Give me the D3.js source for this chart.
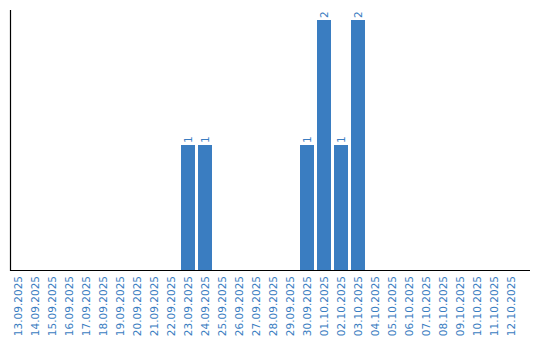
<!DOCTYPE html>
<html><head><meta charset="utf-8">
<script src="https://cdn.jsdelivr.net/npm/d3@7"></script>
<style>body{margin:0;background:#fff}svg{display:block}</style>
</head><body>
<svg id="c" width="540" height="340"></svg>
<script>
const categories = ["13.09.2025","14.09.2025","15.09.2025","16.09.2025","17.09.2025","18.09.2025","19.09.2025","20.09.2025","21.09.2025","22.09.2025","23.09.2025","24.09.2025","25.09.2025","26.09.2025","27.09.2025","28.09.2025","29.09.2025","30.09.2025","01.10.2025","02.10.2025","03.10.2025","04.10.2025","05.10.2025","06.10.2025","07.10.2025","08.10.2025","09.10.2025","10.10.2025","11.10.2025","12.10.2025"];
const values = [0,0,0,0,0,0,0,0,0,0,1,1,0,0,0,0,0,1,2,1,2,0,0,0,0,0,0,0,0,0];

(function(){
const svg = d3.select("#c");
const mLeft = 11, mTop = 10, mBottom = 270, mRight = 530;
const blue = "#3a7dc1";
const font = "DejaVu Sans, Verdana, sans-serif";
const fs = 10.5;

const x = d3.scaleBand().domain(categories).range([mLeft, mLeft + 17*30])
  .paddingInner(3/17).paddingOuter(1.5/17).align(0);
const y = d3.scaleLinear().domain([0, 2.08]).range([mBottom, mTop]);

svg.selectAll("rect.bar").data(values).join("rect").attr("class","bar")
  .attr("x", (d,i) => x(categories[i]))
  .attr("width", x.bandwidth())
  .attr("y", d => y(d))
  .attr("height", d => y(0) - y(d))
  .attr("fill", blue);

values.forEach((d,i) => {
  if (d <= 0) return;
  const cx = x(categories[i]) + x.bandwidth()/2;
  svg.append("text").attr("class","val")
    .attr("transform", `translate(${cx},${y(d) - 2}) rotate(-90)`)
    .attr("dy", "0.35em")
    .attr("text-anchor","start")
    .attr("font-family", font).attr("font-size", fs)
    .attr("fill", blue).text(d);
});

svg.append("line").attr("x1", mLeft - 0.5).attr("x2", mLeft - 0.5).attr("y1", mTop).attr("y2", mBottom + 1)
  .attr("stroke","#000").attr("stroke-width",1.2);
svg.append("line").attr("x1", mLeft - 1).attr("x2", mRight).attr("y1", mBottom + 0.5).attr("y2", mBottom + 0.5)
  .attr("stroke","#000").attr("stroke-width",1.2);

const xAxis = d3.axisBottom(x).tickSize(0).tickPadding(0);
const gx = svg.append("g").attr("transform", `translate(0,${mBottom})`).call(xAxis);
gx.select(".domain").remove();
gx.selectAll("text")
  .attr("font-family", font).attr("font-size", fs).attr("fill", blue)
  .attr("text-anchor","end")
  .attr("transform","rotate(-90)")
  .attr("x", -6).attr("y", 0).attr("dy","0.35em");
})();
</script>
</body></html>
